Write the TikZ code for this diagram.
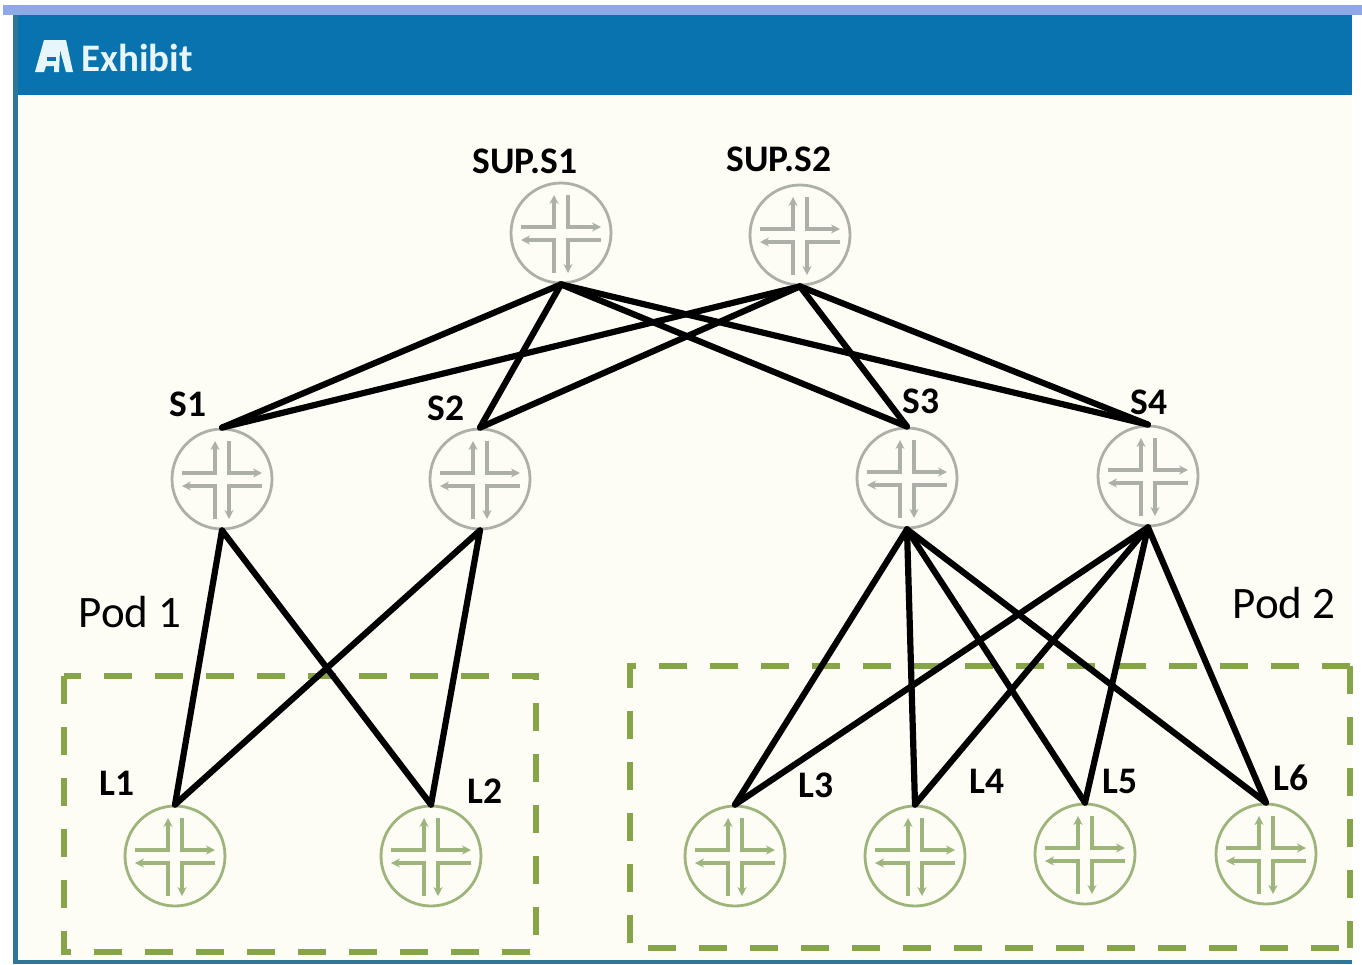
\documentclass[tikz,border=0pt]{standalone}
\usepackage{fontspec}
\setmainfont{Carlito}
\usetikzlibrary{arrows.meta}

\definecolor{barblue}{HTML}{0873AE}
\definecolor{edgeblue}{HTML}{2F7596}
\definecolor{topblue}{HTML}{8FA9E6}
\definecolor{paper}{HTML}{FDFDF6}
\definecolor{spinegray}{HTML}{ADAFA9}
\definecolor{leafgreen}{HTML}{9DB47B}
\definecolor{podgreen}{HTML}{86A548}
\definecolor{iconwhite}{HTML}{E6F6FA}

\tikzset{
	router/.style={circle, draw=#1, line width=2.8pt, fill=paper, minimum size=100pt, inner sep=0pt,
		path picture={
			\begin{scope}[shift={(path picture bounding box.center)}, draw=#1, line width=3.2pt, -{Stealth[length=9pt,width=9pt]}]
				\draw (-40,-6) -- (-7,-6) -- (-7,-38);
				\draw (7,-38) -- (7,-6) -- (40,-6);
				\draw (40,7) -- (7,7) -- (7,40);
				\draw (-7,40) -- (-7,7) -- (-40,7);
			\end{scope}
		}},
	link/.style={draw=black, line width=6.2pt, line cap=round},
	podbox/.style={draw=podgreen, line width=6.5pt, dash pattern=on 28pt off 23pt},
	devlabel/.style={font=\fontsize{37.5}{37.5}\selectfont\bfseries, inner sep=0pt},
	podlabel/.style={font=\fontsize{45}{45}\selectfont, inner sep=0pt}
}

\begin{document}
\begin{tikzpicture}[x=1pt, y=-1pt]
		\useasboundingbox (0,0) rectangle (1362,964);

		% window
		\fill[white] (0,0) rectangle (1362,964);
		\fill[paper] (15,95) rectangle (1352,960);
		\fill[topblue] (3,5) rectangle (1362,15);
		\fill[barblue] (15,15) rectangle (1352,95);
		\fill[edgeblue] (13,15) rectangle (18,964);
		\fill[edgeblue] (13,960) rectangle (1352,964);
		\path (81,58) node[anchor=west, text=iconwhite, font=\fontsize{39}{39}\selectfont\bfseries, inner sep=0pt] (exhibit) {Exhibit};
		\fill[iconwhite] (44,40) -- (66,40) -- (73,72) -- (66,72) -- (60,50) -- (59,72) -- (54,72) -- (54,66) -- (46,66) -- (44,72) -- (35,72) -- cycle;
		\fill[barblue] (47,57) rectangle (56,61);

		% pods
		\draw[podbox] (64,676) rectangle (536,952);
		\draw[podbox] (1350,666) -- (630,666) -- (630,948) -- (1350,948);
		\draw[podbox] (1350,666) -- (1350,948);

		\path (561,233) node[router=spinegray] (sups1) {}
			(800,235) node[router=spinegray] (sups2) {}
			(222,479) node[router=spinegray] (s1) {}
			(480,479) node[router=spinegray] (s2) {}
			(907,478) node[router=spinegray] (s3) {}
			(1148,476) node[router=spinegray] (s4) {}
			(175,856) node[router=leafgreen] (l1) {}
			(431,856) node[router=leafgreen] (l2) {}
			(735,856) node[router=leafgreen] (l3) {}
			(915,856) node[router=leafgreen] (l4) {}
			(1085,854) node[router=leafgreen] (l5) {}
			(1266,854) node[router=leafgreen] (l6) {};

		\foreach \top in {sups1,sups2}
			\foreach \bot in {s1,s2,s3,s4}
				\draw[link] (\top.south) -- (\bot.north);
		\foreach \top in {s1,s2}
			\foreach \bot in {l1,l2}
				\draw[link] (\top.south) -- (\bot.north);
		\foreach \top in {s3,s4}
			\foreach \bot in {l3,l4,l5,l6}
				\draw[link] (\top.south) -- (\bot.north);

		\path (525,161) node[devlabel] (lsups1) {SUP.S1}
			(779,159) node[devlabel] (lsups2) {SUP.S2}
			(188,404) node[devlabel] (ls1) {S1}
			(446,408) node[devlabel] (ls2) {S2}
			(921,401) node[devlabel] (ls3) {S3}
			(1149,402) node[devlabel] (ls4) {S4}
			(117,783) node[devlabel] (ll1) {L1}
			(485,791) node[devlabel] (ll2) {L2}
			(816,785) node[devlabel] (ll3) {L3}
			(987,781) node[devlabel] (ll4) {L4}
			(1120,781) node[devlabel] (ll5) {L5}
			(1291,778) node[devlabel] (ll6) {L6};
		\path (130,612) node[podlabel] (pod1) {Pod 1}
			(1284,603) node[podlabel] (pod2) {Pod 2};
	\end{tikzpicture}
\end{document}
